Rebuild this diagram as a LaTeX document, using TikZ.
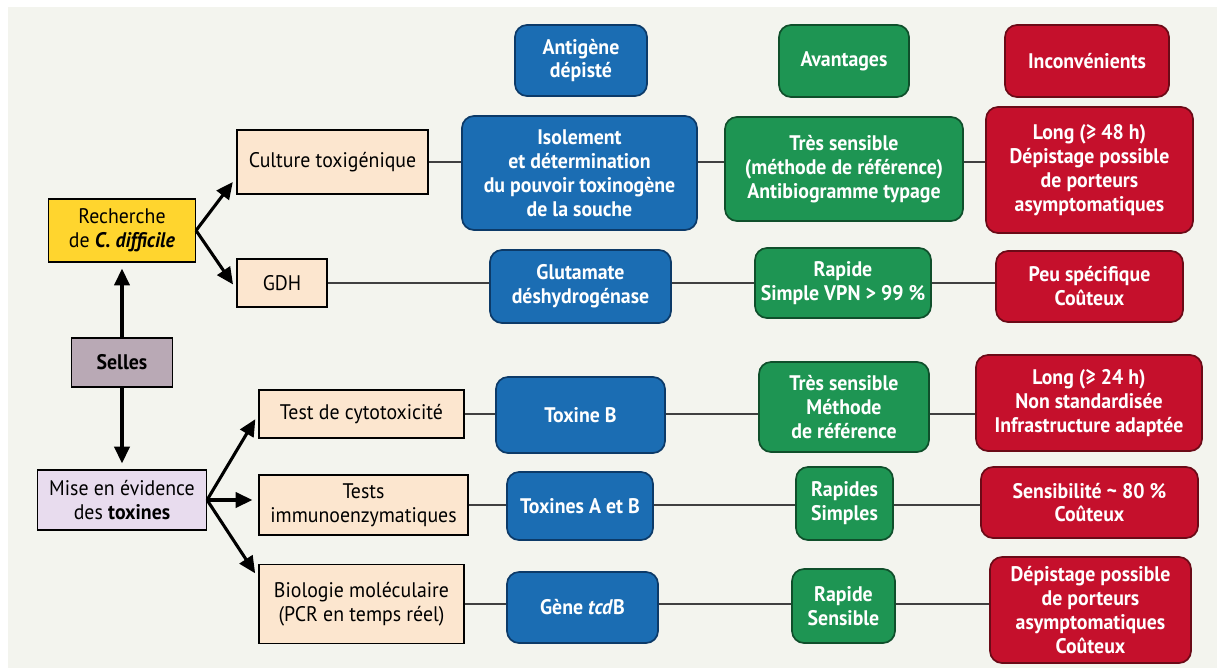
\documentclass[tikz,border=0pt]{standalone}
\usepackage{fontspec}
\setmainfont[FakeStretch=0.94]{PT Sans}
\usetikzlibrary{arrows.meta}
\definecolor{fond}{HTML}{F3F4EE}
\definecolor{peche}{HTML}{FCE6CF}
\definecolor{jaune}{HTML}{FFD52E}
\definecolor{mauve}{HTML}{B9A9B5}
\definecolor{lilas}{HTML}{E8DCEE}
\definecolor{bleu}{HTML}{1B6DB3}
\definecolor{bleufonce}{HTML}{0C3A68}
\definecolor{vert}{HTML}{1E9553}
\definecolor{vertfonce}{HTML}{0F4F2B}
\definecolor{rouge}{HTML}{C5102C}
\definecolor{rougefonce}{HTML}{6B0A17}
\begin{document}
\begin{tikzpicture}[x=0.025cm, y=-0.025cm,
	font=\fontsize{15}{17}\selectfont,
	taille/.style 2 args={minimum width=#1*0.025cm, minimum height=#2*0.025cm},
	boite/.style={draw=black, line width=0.8pt, align=center, inner sep=0pt},
	methode/.style={boite, fill=peche},
	carte/.style={draw, line width=1.2pt, rounded corners=0.3cm, align=center, text=white, font=\fontsize{15}{17}\selectfont\bfseries, inner sep=0pt},
	antigene/.style={carte, fill=bleu, draw=bleufonce},
	avantage/.style={carte, fill=vert, draw=vertfonce},
	inconv/.style={carte, fill=rouge, draw=rougefonce},
	fleche/.style={line width=2.2pt, -{Triangle[length=4.2mm,width=3.8mm]}, shorten >=1.5mm},
	lien/.style={line width=1pt, black!75}]
	\useasboundingbox (0,0) rectangle (1217,671);
	% le fond
	\fill[fond] (8,7) rectangle (1217,668);
	% les en-tetes
	\node[antigene, taille={132}{71}] (hAnt) at (581,60.5) {Antigène\\dépisté};
	\node[avantage, taille={130}{72}] (hAva) at (844,61) {Avantages};
	\node[inconv, taille={164}{72}] (hInc) at (1087,61) {Inconvénients};
	% la colonne de gauche
	\node[boite, fill=jaune, taille={147}{63}] (rech) at (122,230.5) {Recherche\\de \textbf{\textit{C. difficile}}};
	\node[boite, fill=mauve, taille={101}{49}] (selles) at (122,362.5) {\textbf{Selles}};
	\node[boite, fill=lilas, taille={169}{60}] (mise) at (122,500) {Mise en évidence\\des \textbf{toxines}};
	% les methodes
	\node[methode, taille={191}{64}] (cult) at (332.5,162) {Culture toxigénique};
	\node[methode, taille={90}{48}] (gdh) at (282,283) {GDH};
	\node[methode, taille={205}{48}] (cyto) at (361.5,414) {Test de cytotoxicité};
	\node[methode, taille={209}{60}] (immuno) at (363.5,505) {Tests\\immunoenzymatiques};
	\node[methode, taille={205}{79}] (bio) at (361.5,604) {Biologie moléculaire\\(PCR en temps réel)};
	% antigene depiste
	\node[antigene, taille={235}{114}] (iso) at (579.5,173) {Isolement\\et détermination\\du pouvoir toxinogène\\de la souche};
	\node[antigene, taille={181}{73}] (glu) at (580.5,286.5) {Glutamate\\déshydrogénase};
	\node[antigene, taille={169}{76}] (toxB) at (580.5,415) {Toxine B};
	\node[antigene, taille={146}{68}] (toxAB) at (580,506) {Toxines A et B};
	\node[antigene, taille={151}{71}] (gene) at (582.5,607.5) {Gène \textit{tcd}B};
	% avantages
	\node[avantage, taille={238}{104}] (tres1) at (844,169) {Très sensible\\(méthode de référence)\\Antibiogramme typage};
	\node[avantage, taille={176}{70}] (rap2) at (843,283) {Rapide\\Simple VPN > 99 \%};
	\node[avantage, taille={170}{90}] (tres3) at (844,407) {Très sensible\\Méthode\\de référence};
	\node[avantage, taille={97}{73}] (rap4) at (844.5,503.5) {Rapides\\Simples};
	\node[avantage, taille={103}{74}] (rap5) at (843.5,606) {Rapide\\Sensible};
	% inconvenients
	\node[inconv, taille={207}{126}] (long1) at (1089.5,170) {Long (≥ 48 h)\\Dépistage possible\\de porteurs\\asymptomatiques};
	\node[inconv, taille={187}{71}] (peu) at (1089.5,286.5) {Peu spécifique\\Coûteux};
	\node[inconv, taille={226}{96}] (long3) at (1089,403) {Long (≥ 24 h)\\Non standardisée\\Infrastructure adaptée};
	\node[inconv, taille={217}{71}] (sens4) at (1089.5,502.5) {Sensibilité \textasciitilde{} 80 \%\\Coûteux};
	\node[inconv, taille={201}{106}] (dep5) at (1090.5,610) {Dépistage possible\\de porteurs\\asymptomatiques\\Coûteux};
	% les fleches
	\draw[fleche] (selles) -- (rech);
	\draw[fleche] (selles) -- (mise);
	\draw[fleche] (rech.east) -- (cult.189);
	\draw[fleche] (rech.east) -- (gdh.188);
	\draw[fleche] (mise.east) -- (cyto.west);
	\draw[fleche] (mise.east) -- (mise.east -| immuno.west);
	\draw[fleche] (mise.east) -- (bio.166);
	% les liens
	\draw[lien] (cult.east) -- (cult.east -| iso.west);
	\draw[lien] (iso.east |- cult.east) -- (tres1.west |- cult.east);
	\draw[lien] (tres1.east |- cult.east) -- (long1.west |- cult.east);
	\draw[lien] (gdh.east) -- (gdh.east -| glu.west);
	\draw[lien] (glu.east |- gdh.east) -- (rap2.west |- gdh.east);
	\draw[lien] (rap2.east |- gdh.east) -- (peu.west |- gdh.east);
	\draw[lien] (cyto.east) -- (cyto.east -| toxB.west);
	\draw[lien] (toxB.east |- cyto.east) -- (tres3.west |- cyto.east);
	\draw[lien] (tres3.east |- cyto.east) -- (long3.west |- cyto.east);
	\draw[lien] (immuno.east) -- (immuno.east -| toxAB.west);
	\draw[lien] (toxAB.east |- immuno.east) -- (rap4.west |- immuno.east);
	\draw[lien] (rap4.east |- immuno.east) -- (sens4.west |- immuno.east);
	\draw[lien] (bio.east) -- (bio.east -| gene.west);
	\draw[lien] (gene.east |- bio.east) -- (rap5.west |- bio.east);
	\draw[lien] (rap5.east |- bio.east) -- (dep5.west |- bio.east);
\end{tikzpicture}
\end{document}
